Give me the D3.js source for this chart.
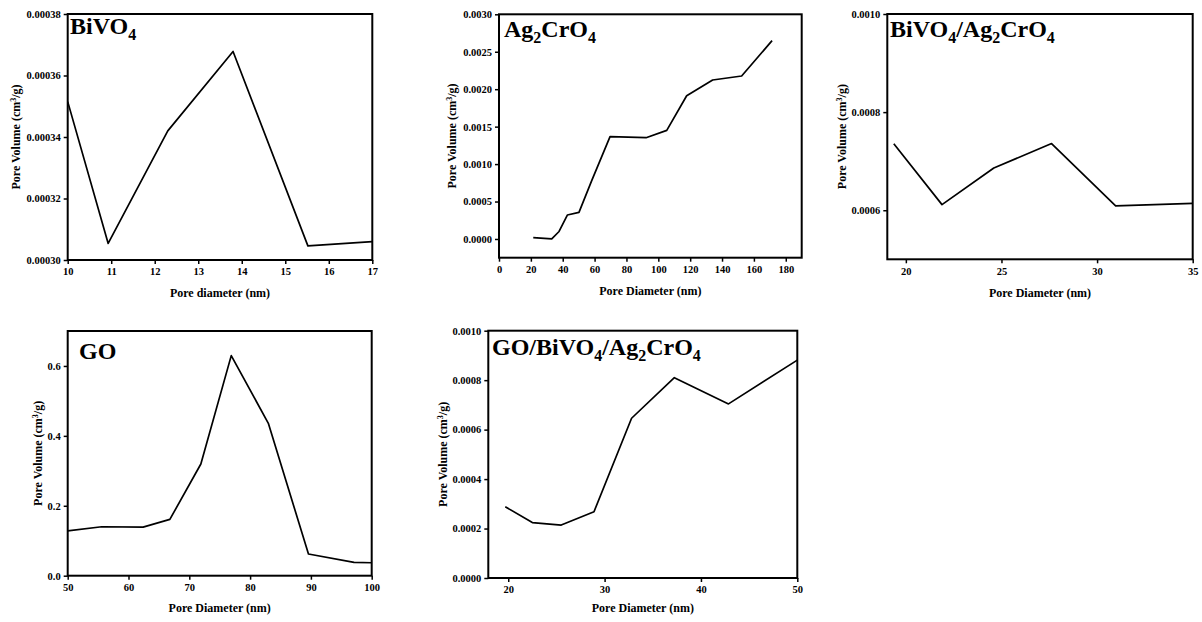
<!DOCTYPE html>
<html>
<head>
<meta charset="utf-8">
<script src="https://cdn.jsdelivr.net/npm/d3@7"></script>
<style>
  body { margin: 0; background: #fff; }
  svg text { font-family: "Liberation Serif", "Times New Roman", serif; font-weight: bold; fill: #000; }
</style>
</head>
<body>
<svg width="1202" height="622"></svg>
<script>
// pore diameter (nm) / pore volume (cm3/g)
var bivoX = [10, 10.93, 12.3, 13.8, 15.52, 17];
var bivoY = [0.0003515, 0.0003054, 0.000342, 0.0003678, 0.0003046, 0.000306];

var agX = [21.5, 33.1, 37.7, 42.9, 50.2, 58, 69.7, 92.3, 105.3, 117.8, 134.1, 152.3, 171.4];
var agY = [0.000017, 0.000002, 0.0001, 0.00032, 0.000355, 0.00077, 0.001366, 0.001352, 0.00145, 0.001913, 0.002123, 0.002176, 0.002648];

var compX = [19.37, 21.89, 24.6, 27.62, 30.97, 35];
var compY = [0.0007356, 0.0006115, 0.000686, 0.000736, 0.000609, 0.000614];

var goX = [50, 55.6, 62.4, 66.8, 71.9, 76.9, 83, 89.6, 97.1, 100];
var goY = [0.128, 0.140, 0.139, 0.161, 0.3195, 0.6295, 0.436, 0.062, 0.038, 0.037];

var triX = [19.69, 22.5, 25.5, 28.9, 32.8, 37.24, 42.86, 50];
var triY = [0.000288, 0.000224, 0.000214, 0.000268, 0.000646, 0.00081, 0.000704, 0.000881];

var bivoXTicks = [10, 11, 12, 13, 14, 15, 16, 17];
var bivoYTicks = [0.0003, 0.00032, 0.00034, 0.00036, 0.00038];
var agXTicks = [0, 20, 40, 60, 80, 100, 120, 140, 160, 180];
var agYTicks = [0, 0.0005, 0.001, 0.0015, 0.002, 0.0025, 0.003];
var compXTicks = [20, 25, 30, 35];
var compYTicks = [0.0006, 0.0008, 0.001];
var goXTicks = [50, 60, 70, 80, 90, 100];
var goYTicks = [0, 0.2, 0.4, 0.6];
var triXTicks = [20, 30, 40, 50];
var triYTicks = [0, 0.0002, 0.0004, 0.0006, 0.0008, 0.001];

// title pieces: [text, isSubscript]
var bivoTitle = [["BiVO", 0], ["4", 1]];
var agTitle = [["Ag", 0], ["2", 1], ["CrO", 0], ["4", 1]];
var compTitle = [["BiVO", 0], ["4", 1], ["/Ag", 0], ["2", 1], ["CrO", 0], ["4", 1]];
var goTitle = [["GO", 0]];
var triTitle = [["GO/BiVO", 0], ["4", 1], ["/Ag", 0], ["2", 1], ["CrO", 0], ["4", 1]];

var panels = [
  { x: bivoX, y: bivoY, xd: [10, 17], yd: [0.0003, 0.00038], xt: bivoXTicks, yt: bivoYTicks, yf: ".5f",
    box: [67.7, 14, 372.3, 260], title: bivoTitle, tpos: [70, 34], xlab: "Pore diameter (nm)", xlabY: 297, ylabX: 20 },
  { x: agX, y: agY, xd: [0, 190], yd: [-0.00025, 0.003], xt: agXTicks, yt: agYTicks, yf: ".4f",
    box: [499, 14.3, 801.7, 257.7], title: agTitle, tpos: [504, 37], xlab: "Pore Diameter (nm)", xlabY: 295, ylabX: 456 },
  { x: compX, y: compY, xd: [19.03, 35], yd: [0.0005, 0.001], xt: compXTicks, yt: compYTicks, yf: ".4f",
    box: [887.3, 14, 1192.7, 259.3], title: compTitle, tpos: [890, 37], xlab: "Pore Diameter (nm)", xlabY: 297, ylabX: 846 },
  { x: goX, y: goY, xd: [50, 100], yd: [0, 0.7], xt: goXTicks, yt: goYTicks, yf: ".1f",
    box: [67.7, 331, 371.7, 575.7], title: goTitle, tpos: [79, 359], xlab: "Pore Diameter (nm)", xlabY: 612, ylabX: 42 },
  { x: triX, y: triY, xd: [17.93, 50], yd: [0, 0.001], xt: triXTicks, yt: triYTicks, yf: ".4f",
    box: [488.3, 330.7, 797.3, 578], title: triTitle, tpos: [492, 355], xlab: "Pore Diameter (nm)", xlabY: 612, ylabX: 447 }
];

var svg = d3.select("svg");

panels.forEach(function(p) {
  var b = p.box;
  var xs = d3.scaleLinear().domain(p.xd).range([b[0], b[2]]);
  var ys = d3.scaleLinear().domain(p.yd).range([b[3], b[1]]);
  var g = svg.append("g");

  // data line
  var pts = p.x.map(function(d, i) { return [d, p.y[i]]; });
  g.append("path")
    .datum(pts)
    .attr("fill", "none")
    .attr("stroke", "#000")
    .attr("stroke-width", 1.7)
    .attr("stroke-linejoin", "round")
    .attr("d", d3.line().x(function(d) { return xs(d[0]); }).y(function(d) { return ys(d[1]); }));

  // frame
  g.append("rect")
    .attr("x", b[0]).attr("y", b[1])
    .attr("width", b[2] - b[0]).attr("height", b[3] - b[1])
    .attr("fill", "none").attr("stroke", "#000").attr("stroke-width", 2);

  var xa = g.append("g")
    .attr("transform", "translate(0," + b[3] + ")")
    .call(d3.axisBottom(xs).tickValues(p.xt).tickSize(4).tickPadding(4).tickFormat(d3.format("d")));
  var ya = g.append("g")
    .attr("transform", "translate(" + b[0] + ",0)")
    .call(d3.axisLeft(ys).tickValues(p.yt).tickSize(4).tickPadding(3).tickFormat(d3.format(p.yf)));
  [xa, ya].forEach(function(a) {
    a.select(".domain").remove();
    a.selectAll("line").attr("stroke", "#000").attr("stroke-width", 1.5);
    a.selectAll("text").style("font-size", "10.5px").style("font-family", "Liberation Serif").style("font-weight", "bold");
  });

  // panel title with subscripts
  var t = g.append("text").attr("x", p.tpos[0]).attr("y", p.tpos[1]).style("font-size", "24px");
  var sub = false;
  p.title.forEach(function(part) {
    var s = t.append("tspan").text(part[0]);
    if (part[1] && !sub) { s.attr("dy", 6).style("font-size", "16px"); sub = true; }
    else if (part[1]) { s.style("font-size", "16px"); }
    else if (sub) { s.attr("dy", -6); sub = false; }
  });

  // axis titles
  g.append("text")
    .attr("x", (b[0] + b[2]) / 2).attr("y", p.xlabY)
    .attr("text-anchor", "middle").style("font-size", "12px")
    .text(p.xlab);

  var yl = g.append("text")
    .attr("transform", "translate(" + p.ylabX + "," + ((b[1] + b[3]) / 2) + ") rotate(-90)")
    .attr("text-anchor", "middle").style("font-size", "12px");
  yl.append("tspan").text("Pore Volume (cm");
  yl.append("tspan").attr("dy", -4).style("font-size", "8px").text("3");
  yl.append("tspan").attr("dy", 4).text("/g)");
});
</script>
</body>
</html>
